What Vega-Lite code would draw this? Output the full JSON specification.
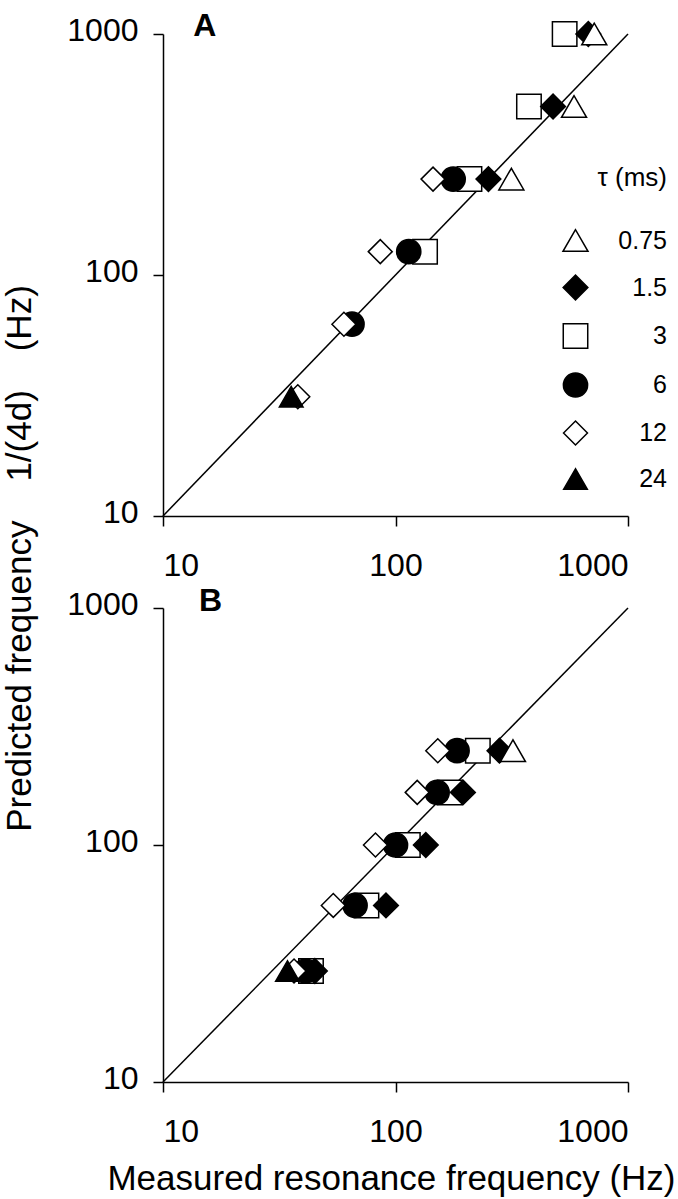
{
  "$schema": "https://vega.github.io/schema/vega-lite/v6.json",
  "background": "white",
  "padding": {"left": 2, "top": 10, "right": 5, "bottom": 5},
  "bounds": "flush",
  "spacing": 92,
  "config": {
    "view": {"stroke": null},
    "font": "Liberation Sans",
    "text": {"fontSize": 32},
    "axis": {
      "domainColor": "black", "domainWidth": 1.5,
      "tickColor": "black", "tickWidth": 1.5, "tickSize": 10,
      "grid": false,
      "labelColor": "black", "labelFontSize": 32, "labelFont": "Liberation Sans",
      "titleColor": "black", "titleFontSize": 35, "titleFontWeight": "normal", "titleFont": "Liberation Sans"
    },
    "axisX": {"labelPadding": 24},
    "axisY": {"labelPadding": 15, "labelOffset": -4}
  },
  "resolve": {
    "scale": {"x": "independent", "y": "independent", "shape": "independent", "fill": "independent", "size": "independent"},
    "legend": {"shape": "independent", "fill": "independent", "size": "independent"}
  },
  "vconcat": [
    {
      "width": 465,
      "height": 482,
      "layer": [
        {
          "data": {"values": [{"measured": 10, "predicted": 10}, {"measured": 1000, "predicted": 1000}]},
          "mark": {"type": "line", "color": "black", "strokeWidth": 1.5},
          "encoding": {
            "x": {"field": "measured", "type": "quantitative", "scale": {"type": "log", "domain": [10, 1000], "nice": false}, "axis": {"values": [10, 100, 1000], "format": "d", "title": null}},
            "y": {"field": "predicted", "type": "quantitative", "scale": {"type": "log", "domain": [10, 1000], "nice": false},
              "axis": {"values": [10, 100, 1000], "format": "d", "title": "Predicted frequency\u00a0\u00a0\u00a0 1/(4d)\u00a0\u00a0\u00a0 (Hz)", "titleX": -133, "titleY": 524, "titleAlign": "center", "titleBaseline": "alphabetic", "titleAngle": 270}}
          }
        },
        {
          "data": {"values": [{"panel": "A"}]},
          "mark": {"type": "text", "fontSize": 32, "fontWeight": "bold", "align": "left", "baseline": "alphabetic", "color": "black", "font": "Liberation Sans"},
          "encoding": {
            "text": {"field": "panel", "type": "nominal"},
            "size": {"value": 32},
            "x": {"datum": 13.5, "type": "quantitative"},
            "y": {"datum": 981, "type": "quantitative"}
          }
        },
        {
          "data": {"values": [
            {"tau": "3", "measured": 534, "predicted": 1000},
            {"tau": "1.5", "measured": 675, "predicted": 1000},
            {"tau": "0.75", "measured": 716, "predicted": 1000},
            {"tau": "3", "measured": 375, "predicted": 500},
            {"tau": "1.5", "measured": 476, "predicted": 500},
            {"tau": "0.75", "measured": 586, "predicted": 500},
            {"tau": "3", "measured": 208, "predicted": 250},
            {"tau": "6", "measured": 177, "predicted": 250},
            {"tau": "1.5", "measured": 251, "predicted": 250},
            {"tau": "12", "measured": 145, "predicted": 250},
            {"tau": "0.75", "measured": 315, "predicted": 250},
            {"tau": "3", "measured": 134, "predicted": 125},
            {"tau": "6", "measured": 114, "predicted": 125},
            {"tau": "12", "measured": 86, "predicted": 125},
            {"tau": "6", "measured": 65, "predicted": 62.5},
            {"tau": "12", "measured": 60, "predicted": 62.5},
            {"tau": "12", "measured": 38, "predicted": 31.25},
            {"tau": "24", "measured": 35.6, "predicted": 31.25}
          ]},
          "mark": {"type": "point", "filled": true, "stroke": "black", "strokeWidth": 1.5, "opacity": 1},
          "encoding": {
            "x": {"field": "measured", "type": "quantitative"},
            "y": {"field": "predicted", "type": "quantitative"},
            "shape": {"field": "tau", "type": "nominal",
              "scale": {"domain": ["0.75", "1.5", "3", "6", "12", "24"], "range": ["triangle-up", "diamond", "square", "circle", "diamond", "triangle-up"]},
              "legend": {"title": "τ   (ms)", "orient": "none", "legendX": 399, "legendY": 131, "labelFontSize": 25, "labelColor": "black", "titleFontSize": 26, "titleFontWeight": "normal", "titleColor": "black", "symbolStrokeColor": "black", "symbolStrokeWidth": 1.5, "symbolOpacity": 1, "rowPadding": 17, "titlePadding": 36, "labelAlign": "right", "labelOffset": 78, "padding": 0, "titleAnchor": "end",
                "encode": {"symbols": {"update": {"stroke": {"value": "black"}, "strokeWidth": {"value": 1.5}, "opacity": {"value": 1}}}}}},
            "fill": {"field": "tau", "type": "nominal",
              "scale": {"domain": ["0.75", "1.5", "3", "6", "12", "24"], "range": ["white", "black", "white", "black", "white", "black"]},
              "legend": {"title": "τ   (ms)", "orient": "none", "legendX": 399, "legendY": 131, "labelFontSize": 25, "labelColor": "black", "titleFontSize": 26, "titleFontWeight": "normal", "titleColor": "black", "symbolStrokeColor": "black", "symbolStrokeWidth": 1.5, "symbolOpacity": 1, "rowPadding": 17, "titlePadding": 36, "labelAlign": "right", "labelOffset": 78, "padding": 0, "titleAnchor": "end",
                "encode": {"symbols": {"update": {"stroke": {"value": "black"}, "strokeWidth": {"value": 1.5}, "opacity": {"value": 1}}}}}},
            "size": {"field": "tau", "type": "nominal",
              "scale": {"domain": ["0.75", "1.5", "3", "6", "12", "24"], "range": [625, 560, 484, 530, 560, 625]},
              "legend": {"title": "τ   (ms)", "orient": "none", "legendX": 399, "legendY": 131, "labelFontSize": 25, "labelColor": "black", "titleFontSize": 26, "titleFontWeight": "normal", "titleColor": "black", "symbolStrokeColor": "black", "symbolStrokeWidth": 1.5, "symbolOpacity": 1, "rowPadding": 17, "titlePadding": 36, "labelAlign": "right", "labelOffset": 78, "padding": 0, "titleAnchor": "end",
                "encode": {"symbols": {"update": {"stroke": {"value": "black"}, "strokeWidth": {"value": 1.5}, "opacity": {"value": 1}}}}}}
          }
        }
      ]
    },
    {
      "width": 465,
      "height": 474,
      "layer": [
        {
          "data": {"values": [{"measured": 10, "predicted": 10}, {"measured": 1000, "predicted": 1000}]},
          "mark": {"type": "line", "color": "black", "strokeWidth": 1.5},
          "encoding": {
            "x": {"field": "measured", "type": "quantitative", "scale": {"type": "log", "domain": [10, 1000], "nice": false},
              "axis": {"values": [10, 100, 1000], "format": "d", "title": "Measured resonance frequency (Hz)", "titleY": 107, "titleX": 228, "titleBaseline": "alphabetic"}},
            "y": {"field": "predicted", "type": "quantitative", "scale": {"type": "log", "domain": [10, 1000], "nice": false}, "axis": {"values": [10, 100, 1000], "format": "d", "title": null}}
          }
        },
        {
          "data": {"values": [{"panel": "B"}]},
          "mark": {"type": "text", "fontSize": 32, "fontWeight": "bold", "align": "left", "baseline": "alphabetic", "color": "black", "font": "Liberation Sans"},
          "encoding": {
            "text": {"field": "panel", "type": "nominal"},
            "size": {"value": 32},
            "x": {"datum": 14.3, "type": "quantitative"},
            "y": {"datum": 971, "type": "quantitative"}
          }
        },
        {
          "data": {"values": [
            {"tau": "3", "measured": 226, "predicted": 250},
            {"tau": "6", "measured": 184, "predicted": 250},
            {"tau": "1.5", "measured": 280, "predicted": 250},
            {"tau": "12", "measured": 152, "predicted": 250},
            {"tau": "0.75", "measured": 320, "predicted": 250},
            {"tau": "3", "measured": 171, "predicted": 166.7},
            {"tau": "6", "measured": 151, "predicted": 166.7},
            {"tau": "1.5", "measured": 195, "predicted": 166.7},
            {"tau": "12", "measured": 124, "predicted": 166.7},
            {"tau": "3", "measured": 113, "predicted": 100},
            {"tau": "6", "measured": 100, "predicted": 100},
            {"tau": "1.5", "measured": 135, "predicted": 100},
            {"tau": "12", "measured": 82, "predicted": 100},
            {"tau": "3", "measured": 75, "predicted": 55.6},
            {"tau": "6", "measured": 67, "predicted": 55.6},
            {"tau": "1.5", "measured": 91, "predicted": 55.6},
            {"tau": "12", "measured": 54, "predicted": 55.6},
            {"tau": "3", "measured": 43.3, "predicted": 29.4},
            {"tau": "6", "measured": 41, "predicted": 29.4},
            {"tau": "1.5", "measured": 45, "predicted": 29.4},
            {"tau": "12", "measured": 36.6, "predicted": 29.4},
            {"tau": "24", "measured": 34.3, "predicted": 29.4}
          ]},
          "mark": {"type": "point", "filled": true, "stroke": "black", "strokeWidth": 1.5, "opacity": 1},
          "encoding": {
            "x": {"field": "measured", "type": "quantitative"},
            "y": {"field": "predicted", "type": "quantitative"},
            "shape": {"field": "tau", "type": "nominal", "legend": null,
              "scale": {"domain": ["0.75", "1.5", "3", "6", "12", "24"], "range": ["triangle-up", "diamond", "square", "circle", "diamond", "triangle-up"]}},
            "fill": {"field": "tau", "type": "nominal", "legend": null,
              "scale": {"domain": ["0.75", "1.5", "3", "6", "12", "24"], "range": ["white", "black", "white", "black", "white", "black"]}},
            "size": {"field": "tau", "type": "nominal", "legend": null,
              "scale": {"domain": ["0.75", "1.5", "3", "6", "12", "24"], "range": [625, 560, 484, 530, 560, 625]}}
          }
        }
      ]
    }
  ]
}
